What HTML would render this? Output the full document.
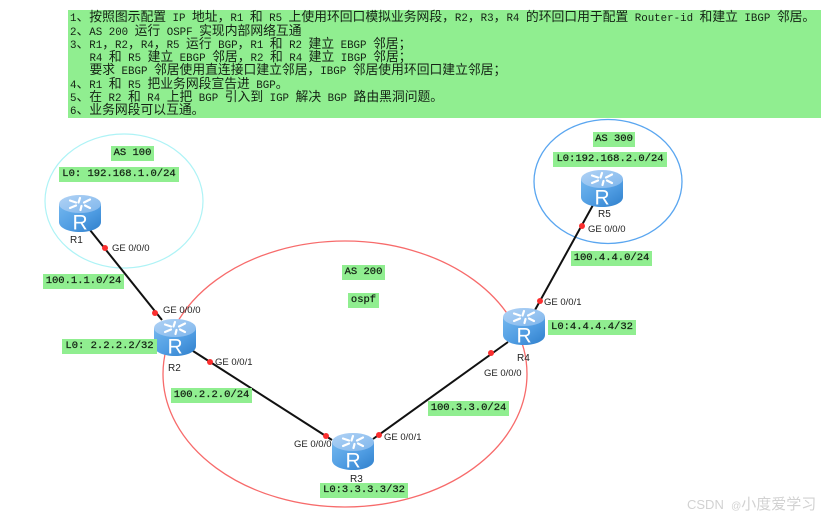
<!DOCTYPE html>
<html lang="zh">
<head>
<meta charset="utf-8">
<style>
html,body{margin:0;padding:0;background:#fff}
#p{position:relative;width:830px;height:520px;overflow:hidden;background:#fff;filter:blur(.3px)}
#top{position:absolute;left:68px;top:10px;width:753px;height:108px;background:#90ee90}
.l{position:absolute;left:2px;white-space:pre;font:12.8px/14px "WenQuanYi Zen Hei","Noto Sans CJK SC",sans-serif;color:#142214}
.l b{font:normal 10.8px/14px "Liberation Mono",monospace}
.g{position:absolute;background:#90ee90;font:10.5px/15px "Liberation Mono",monospace;color:#142214;white-space:pre;text-align:center;height:15px;-webkit-text-stroke:.25px #142214}
svg{position:absolute;left:0;top:0}
svg text{font-family:"Liberation Sans",sans-serif;fill:#222}
#wm{position:absolute;left:687px;top:495px;font:13px/18px "Liberation Sans",sans-serif;color:#d2d2d2;white-space:pre}
#wm i{font:normal 15px/18px "WenQuanYi Zen Hei","Noto Sans CJK SC",sans-serif}
#wm u{text-decoration:none;font-size:10px}
</style>
</head>
<body>
<div id="p">
<div id="top">
<div class="l" style="top:-1px"><b>1</b>、按照图示配置<b> IP </b>地址，<b>R1 </b>和<b> R5 </b>上使用环回口模拟业务网段，<b>R2</b>，<b>R3</b>，<b>R4 </b>的环回口用于配置<b> Router-id </b>和建立<b> IBGP </b>邻居。</div>
<div class="l" style="top:13px"><b>2</b>、<b>AS 200 </b>运行<b> OSPF </b>实现内部网络互通</div>
<div class="l" style="top:26px"><b>3</b>、<b>R1</b>，<b>R2</b>，<b>R4</b>，<b>R5 </b>运行<b> BGP</b>，<b>R1 </b>和<b> R2 </b>建立<b> EBGP </b>邻居；</div>
<div class="l" style="top:39px"><b>   R4 </b>和<b> R5 </b>建立<b> EBGP </b>邻居，<b>R2 </b>和<b> R4 </b>建立<b> IBGP </b>邻居；</div>
<div class="l" style="top:52px"><b>   </b>要求<b> EBGP </b>邻居使用直连接口建立邻居，<b>IBGP </b>邻居使用环回口建立邻居；</div>
<div class="l" style="top:66px"><b>4</b>、<b>R1 </b>和<b> R5 </b>把业务网段宣告进<b> BGP</b>。</div>
<div class="l" style="top:79px"><b>5</b>、在<b> R2 </b>和<b> R4 </b>上把<b> BGP </b>引入到<b> IGP </b>解决<b> BGP </b>路由黑洞问题。</div>
<div class="l" style="top:92px"><b>6</b>、业务网段可以互通。</div>
</div>

<svg width="830" height="520" viewBox="0 0 830 520">
<defs>
<linearGradient id="b" x1="0" x2="1" y1="0" y2="1">
<stop offset="0" stop-color="#72b6ee"/><stop offset=".55" stop-color="#4f9ce2"/><stop offset="1" stop-color="#2f7fcb"/>
</linearGradient>
<linearGradient id="t" x1="0" x2="1" y1="0" y2="1">
<stop offset="0" stop-color="#b0d2f5"/><stop offset="1" stop-color="#7fb6ec"/>
</linearGradient>
<g id="r">
<path d="M0 9V27C0 33 9.400 37 21 37S42 33 42 27V9Z" fill="url(#b)"/>
<ellipse cx="21" cy="9" rx="21" ry="9" fill="url(#t)"/>
<g stroke="#fff" stroke-width="2.200" fill="none" stroke-linecap="round">
<path d="M11 5.500 17 7.500M21 3 19.500 7.500M31 4.500 25 7.500M11 13 17 10.500M21.500 15 22.500 11M31 13 26 10.500"/>
</g>
</g>
</defs>
<ellipse cx="124" cy="201" rx="79" ry="67" fill="none" stroke="#aef3f6" stroke-width="1.200"/>
<ellipse cx="608" cy="181.500" rx="74" ry="62" fill="none" stroke="#5aa6f0" stroke-width="1.300"/>
<ellipse cx="345" cy="374" rx="182" ry="133" fill="none" stroke="#f76b6b" stroke-width="1.300"/>
<g stroke="#111" stroke-width="2">
<line x1="90" y1="230" x2="162" y2="320"/>
<line x1="193" y1="351" x2="332" y2="440"/>
<line x1="373" y1="439" x2="508" y2="342"/>
<line x1="535" y1="310" x2="593" y2="205"/>
</g>
<use href="#r" x="59" y="195"/>
<use href="#r" x="154" y="319"/>
<use href="#r" x="332" y="433"/>
<use href="#r" x="503" y="308"/>
<use href="#r" x="581" y="170"/>
<g>
<text x="72.500" y="229.500" style="fill:#fff;font-size:21px">R</text>
<text x="167.500" y="353.500" style="fill:#fff;font-size:21px">R</text>
<text x="345.500" y="467.500" style="fill:#fff;font-size:21px">R</text>
<text x="516.500" y="342.500" style="fill:#fff;font-size:21px">R</text>
<text x="594.500" y="204.500" style="fill:#fff;font-size:21px">R</text>
</g>
<g fill="#fb2f2f">
<circle cx="105" cy="248" r="3"/>
<circle cx="155" cy="313" r="3"/>
<circle cx="210" cy="362" r="3"/>
<circle cx="326" cy="436" r="3"/>
<circle cx="379" cy="435" r="3"/>
<circle cx="491" cy="353" r="3"/>
<circle cx="540" cy="301" r="3"/>
<circle cx="582" cy="226" r="3"/>
</g>
<g style="font-size:9.500px">
<text x="112" y="251">GE 0/0/0</text>
<text x="163" y="313">GE 0/0/0</text>
<text x="215" y="365">GE 0/0/1</text>
<text x="294" y="447">GE 0/0/0</text>
<text x="384" y="440">GE 0/0/1</text>
<text x="544" y="305">GE 0/0/1</text>
<text x="484" y="376">GE 0/0/0</text>
<text x="588" y="232">GE 0/0/0</text>
</g>
<g style="font-size:10px">
<text x="70" y="243">R1</text>
<text x="168" y="371">R2</text>
<text x="350" y="482">R3</text>
<text x="517" y="361">R4</text>
<text x="598" y="217">R5</text>
</g>
</svg>

<div class="g" style="left:111px;top:146px;width:43px">AS 100</div>
<div class="g" style="left:59px;top:167px;width:120px">L0: 192.168.1.0/24</div>
<div class="g" style="left:43px;top:274px;width:81px">100.1.1.0/24</div>
<div class="g" style="left:62px;top:339px;width:95px">L0: 2.2.2.2/32</div>
<div class="g" style="left:171px;top:388px;width:81px">100.2.2.0/24</div>
<div class="g" style="left:428px;top:401px;width:81px">100.3.3.0/24</div>
<div class="g" style="left:320px;top:483px;width:88px">L0:3.3.3.3/32</div>
<div class="g" style="left:571px;top:251px;width:81px">100.4.4.0/24</div>
<div class="g" style="left:548px;top:320px;width:88px">L0:4.4.4.4/32</div>
<div class="g" style="left:593px;top:132px;width:42px">AS 300</div>
<div class="g" style="left:553px;top:152px;width:114px">L0:192.168.2.0/24</div>
<div class="g" style="left:342px;top:265px;width:43px">AS 200</div>
<div class="g" style="left:348px;top:293px;width:31px">ospf</div>
<div id="wm">CSDN  <u>@</u><i>小度爱学习</i></div>
</div>
</body>
</html>
